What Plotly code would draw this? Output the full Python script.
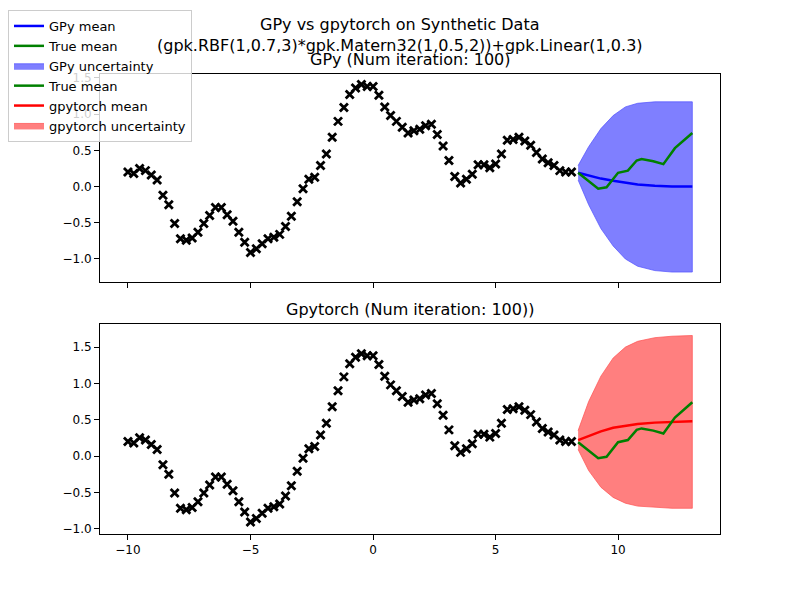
import numpy as np
import plotly.graph_objects as go

train_y = [0.20, 0.18, 0.25, 0.22, 0.16, 0.09, -0.12, -0.25, -0.51, -0.72, -0.74, -0.71, -0.63,
           -0.51, -0.40, -0.29, -0.29, -0.39, -0.48, -0.63, -0.77, -0.91, -0.86, -0.79, -0.72,
           -0.70, -0.66, -0.55, -0.41, -0.21, -0.03, 0.10, 0.13, 0.29, 0.45, 0.68, 0.90, 1.09,
           1.27, 1.36, 1.41, 1.38, 1.38, 1.26, 1.10, 0.98, 0.90, 0.82, 0.74,
           0.77, 0.79, 0.84, 0.86, 0.72, 0.56, 0.36, 0.14, 0.05, 0.10, 0.17, 0.30, 0.30, 0.26,
           0.31, 0.45, 0.64, 0.65, 0.68, 0.63, 0.57, 0.47, 0.38, 0.33, 0.29, 0.22, 0.20, 0.20]
train_x = np.linspace(-10, 8.1, len(train_y))

# true function on the test region
true_x = [8.37, 8.85, 9.19, 9.53, 10.0, 10.4, 10.76, 10.96, 11.44, 11.85, 12.32, 13.03]
true_y = [0.19, 0.06, -0.03, -0.01, 0.19, 0.22, 0.36, 0.38, 0.35, 0.31, 0.53, 0.74]

# predictions
test_x = [8.37, 8.8, 9.3, 9.8, 10.3, 10.8, 11.5, 12.2, 13.03]
gpy_mean = [0.19, 0.15, 0.11, 0.08, 0.05, 0.03, 0.01, 0.0, 0.0]
gpy_upper = [0.29, 0.55, 0.80, 0.98, 1.10, 1.15, 1.17, 1.17, 1.17]
gpy_lower = [0.09, -0.25, -0.58, -0.82, -1.0, -1.1, -1.16, -1.18, -1.18]
torch_mean = [0.22, 0.28, 0.34, 0.39, 0.42, 0.44, 0.46, 0.47, 0.48]
torch_upper = [0.35, 0.75, 1.10, 1.35, 1.50, 1.58, 1.63, 1.65, 1.66]
torch_lower = [0.09, -0.20, -0.43, -0.57, -0.65, -0.69, -0.71, -0.72, -0.72]

fig = go.Figure()


def add_panel(n, mean, upper, lower, color, fill, edge, name, rank):
    xa, ya = ("x", "y") if n == 1 else ("x2", "y2")
    fig.add_trace(go.Scatter(x=train_x, y=train_y, mode="markers", xaxis=xa, yaxis=ya,
                             marker=dict(symbol="x-thin", size=8, line=dict(width=2.8, color="black")),
                             showlegend=False))
    fig.add_trace(go.Scatter(x=test_x + test_x[::-1], y=upper + lower[::-1], fill="toself",
                             fillcolor=fill, line=dict(color=edge, width=1), mode="lines",
                             name=f"{name} uncertainty", xaxis=xa, yaxis=ya, legendrank=rank + 2))
    fig.add_trace(go.Scatter(x=test_x, y=mean, mode="lines", line=dict(color=color, width=2.5),
                             name=f"{name} mean", xaxis=xa, yaxis=ya, legendrank=rank))
    fig.add_trace(go.Scatter(x=true_x, y=true_y, mode="lines", line=dict(color="green", width=2.5),
                             name="True mean", xaxis=xa, yaxis=ya, legendrank=rank + 1 if n == 1 else 3.5))


add_panel(1, gpy_mean, gpy_upper, gpy_lower, "blue", "rgba(0,0,255,0.5)", "rgba(80,80,255,0.7)", "GPy", 1)
add_panel(2, torch_mean, torch_upper, torch_lower, "red", "rgba(255,0,0,0.5)", "rgba(255,80,80,0.7)", "gpytorch", 4)

dx = 8 / 800
dy = 8 / 600
ticks_y = dict(tickvals=[-1, -0.5, 0, 0.5, 1, 1.5], ticktext=["−1.0", "−0.5", "0.0", "0.5", "1.0", "1.5"],
               showline=True, linecolor="black", mirror=True, ticks="outside", showgrid=False,
               zeroline=False, tickcolor="black")
ax = dict(showline=True, linecolor="black", mirror=True, ticks="outside", showgrid=False,
          zeroline=False, range=[-11.14, 14.16], tickvals=[-10, -5, 0, 5, 10], tickcolor="black",
          domain=[0.125 - dx, 0.9 - dx])
fig.update_layout(
    width=800, height=600, margin=dict(l=0, r=0, t=0, b=0),
    plot_bgcolor="white", paper_bgcolor="white",
    font=dict(family="DejaVu Sans", size=12, color="black"),
    xaxis=dict(ax, anchor="y", showticklabels=False),
    yaxis=dict(ticks_y, domain=[0.53 + dy, 0.88 + dy], range=[-1.32, 1.56], anchor="x"),
    xaxis2=dict(ax, anchor="y2", ticktext=["−10", "−5", "0", "5", "10"]),
    yaxis2=dict(ticks_y, domain=[0.108 + dy, 0.46 + dy], range=[-1.07, 1.82], anchor="x2"),
    legend=dict(x=0.0, y=1.0, xanchor="left", yanchor="top", bgcolor="rgba(255,255,255,0.8)",
                bordercolor="#cccccc", borderwidth=1, tracegroupgap=0, font=dict(size=13)),
    annotations=[
        dict(text="GPy vs gpytorch on Synthetic Data<br>(gpk.RBF(1,0.7,3)*gpk.Matern32(1,0.5,2))+gpk.Linear(1,0.3)",
             x=0.5 - dx, y=1 - 3 / 600, xref="paper", yref="paper", yanchor="top", showarrow=False,
             font=dict(size=16)),
        dict(text="GPy (Num iteration: 100)", x=0.5125 - dx, y=0.885 + dy, xref="paper", yref="paper",
             yanchor="bottom", showarrow=False, font=dict(size=16)),
        dict(text="Gpytorch (Num iteration: 100))", x=0.5125 - dx, y=0.465 + dy, xref="paper", yref="paper",
             yanchor="bottom", showarrow=False, font=dict(size=16)),
    ],
)

fig.write_html("out.html")
